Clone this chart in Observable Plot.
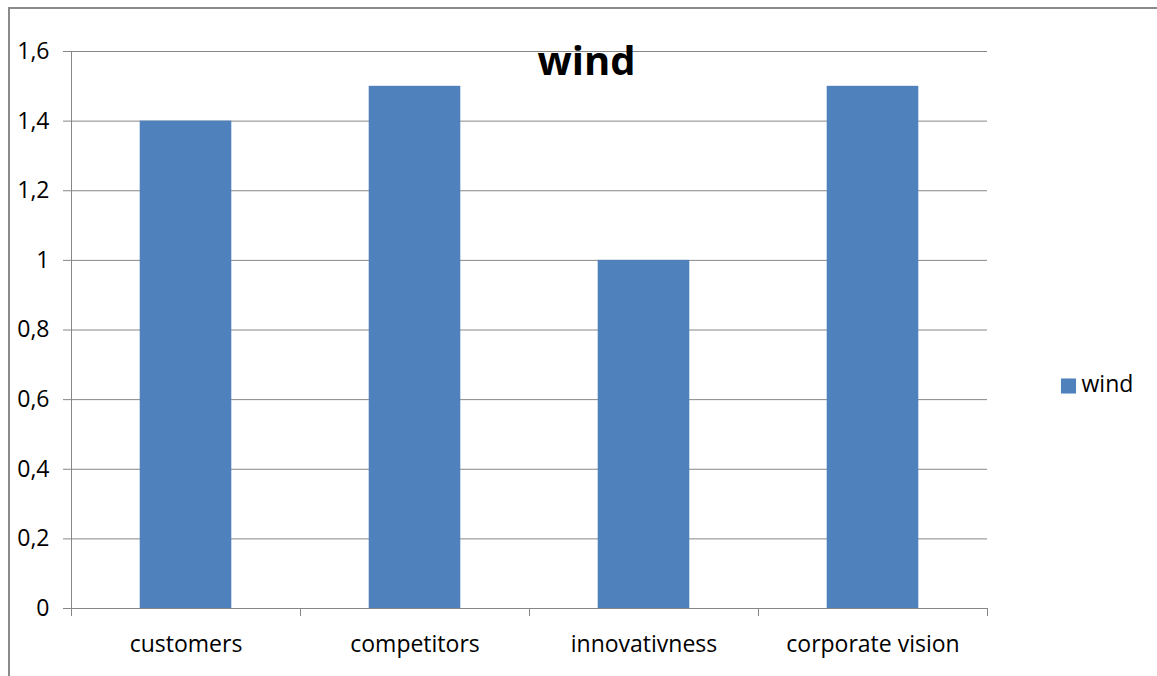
<!DOCTYPE html>
<html><head><meta charset="utf-8">
<script src="https://cdn.jsdelivr.net/npm/d3@7"></script>
<script src="https://cdn.jsdelivr.net/npm/@observablehq/plot@0.6"></script>
<style>
body{margin:0;background:#fff;overflow:hidden;}
#wrap{position:relative;width:1157px;height:676px;}
#border{position:absolute;left:8px;top:7px;right:-10px;bottom:-10px;border-left:2px solid #8a8a8a;border-top:2px solid #8a8a8a;}
#chart{position:absolute;left:0;top:0;}
</style></head>
<body>
<div id="wrap"><div id="border"></div><div id="chart"></div></div>
<script>
const categories = ["customers", "competitors", "innovativness", "corporate vision"];
const values = [1.4, 1.5, 1.0, 1.5];
const yTicks = [0, 0.2, 0.4, 0.6, 0.8, 1, 1.2, 1.4, 1.6];
const seriesName = "wind";
const titleText = "wind";

const barColor = "#4f81bd";
const gridColor = "#878787";
const font = "'Open Sans', sans-serif";
const gap = 0.3; // outer fraction of each category slot left empty on each side

const data = categories.map((c, i) => ({cat: c, i, v: values[i]}));
const fmt = d => String(d).replace(".", ",");

const plot = Plot.plot({
  width: 1157, height: 676,
  marginTop: 51, marginBottom: 68, marginLeft: 71, marginRight: 170,
  style: {fontFamily: font, fontSize: "23px", color: "#000", background: "transparent"},
  x: {domain: [0, categories.length], axis: null},
  y: {domain: [0, 1.6], axis: null},
  marks: [
    Plot.gridY(yTicks, {stroke: gridColor, strokeOpacity: 1, strokeWidth: 1}),
    Plot.axisY(yTicks, {tickFormat: fmt, tickSize: 8, tickPadding: 14, stroke: gridColor, fontSize: 23, fill: "#000", label: null}),
    Plot.ruleX([0], {stroke: gridColor}),
    Plot.rectY(data, {x1: d => d.i + gap, x2: d => d.i + 1 - gap, y: "v", fill: barColor}),
    Plot.ruleY([0], {stroke: gridColor}),
    Plot.axisX(d3.range(categories.length + 1), {tickSize: 8, tickFormat: () => "", stroke: gridColor, label: null}),
    Plot.axisX(categories.map((c, i) => i + 0.5), {tickSize: 0, tickPadding: 27, tickFormat: (d) => categories[Math.floor(d)], fontSize: 23, fill: "#000", label: null}),
    Plot.text([titleText], {frameAnchor: "top", dx: 57, dy: -5, fontSize: 40, fontWeight: "bold", fill: "#000", lineAnchor: "top", fontFamily: font}),
    Plot.dot([seriesName], {frameAnchor: "right", dx: 81, dy: 56, symbol: "square", r: 8.5, fill: barColor}),
    Plot.text([seriesName], {frameAnchor: "right", dx: 94, dy: 55, textAnchor: "start", fontSize: 23, fill: "#000"})
  ]
});
document.getElementById("chart").appendChild(plot);
</script>
</body></html>
